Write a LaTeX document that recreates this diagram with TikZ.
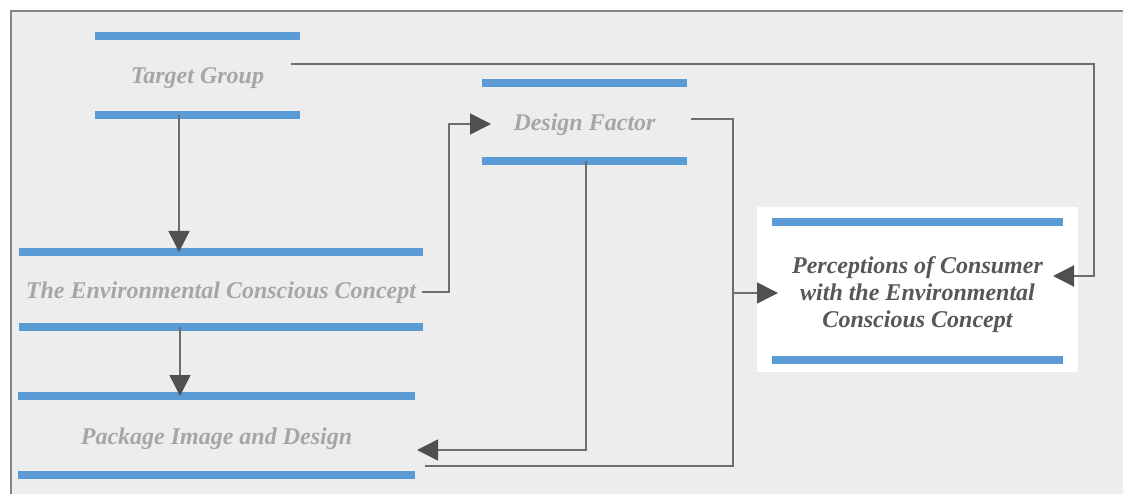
\documentclass[tikz,border=0pt]{standalone}
\usepackage{fontspec}
\setmainfont{Liberation Serif}
\usetikzlibrary{arrows.meta}
\definecolor{bgc}{HTML}{EDEDED}
\definecolor{framec}{HTML}{858585}
\definecolor{barc}{HTML}{5B9BD5}
\definecolor{lightt}{HTML}{A6A6A6}
\definecolor{darkt}{HTML}{575757}
\definecolor{linec}{HTML}{6E6E6E}
\definecolor{tipc}{HTML}{505050}
\tikzset{
  blockbox/.style={inner sep=0pt, outer sep=0pt, minimum height=#1, text=lightt,
    font=\fontsize{24}{27}\selectfont\bfseries\itshape},
  oneline/.style={text height=22.5pt, text depth=5.5pt},
  bar/.style={barc, line width=7.5pt},
  link/.style={linec, line width=1.5pt},
  conn/.style={link, -{Triangle[length=21pt,width=21pt,color=tipc]}},
}
\begin{document}
\begin{tikzpicture}[x=1pt,y=-1pt]
\useasboundingbox (0,0) rectangle (1123,494);
% background and frame
\fill[bgc] (10.5,11) rectangle (1123,494);
\draw[framec, line width=2pt] (10.5,494) -- (10.5,11) -- (1123,11);
% white box behind perceptions
\fill[white] (757,207) rectangle (1078,372);

% blocks
\node[blockbox=79pt, oneline, minimum width=205pt] (tg) at (197.5,75.5) {Target Group};
\node[blockbox=78pt, oneline, minimum width=205pt] (df) at (584.5,122) {Design Factor};
\node[blockbox=75pt, oneline, minimum width=404pt] (env) at (221,289.5) {The Environmental Conscious Concept};
\node[blockbox=79pt, oneline, minimum width=397pt] (pkg) at (216.5,435.5) {Package Image and Design};
\node[blockbox=138pt, minimum width=291pt, text=darkt, align=center] (per) at (917.5,294.5)
  {Perceptions of Consumer\\with the Environmental\\Conscious Concept};

% bars
\foreach \n in {tg,df,env,pkg}{
  \draw[bar] (\n.north west) -- (\n.north east);
  \draw[bar] (\n.south west) -- (\n.south east);
}
\draw[bar] ([yshift=3.5pt]per.north west) -- ([yshift=3.5pt]per.north east);
\draw[bar] ([yshift=3.5pt]per.south west) -- ([yshift=3.5pt]per.south east);

% connectors
\draw[conn] ([xshift=-18.5pt]tg.south) -- ([xshift=-18.5pt]tg.south |- env.north);
\draw[conn] ([xshift=-41pt]env.south) -- ([xshift=-41pt]env.south |- pkg.north);
\draw[conn] ([xshift=-9pt,yshift=11.5pt]tg.east) -- ++(803,0) |- ([xshift=-10pt,yshift=18.5pt]per.east);
\draw[conn] ([xshift=-1pt,yshift=-2.5pt]env.east) -- ++(27,0) |- ([xshift=9pt,yshift=-2pt]df.west);
\draw[link] ([xshift=4pt,yshift=3pt]df.east) -| ([xshift=-39pt,yshift=1.5pt]per.west);
\draw[conn] ([xshift=10pt,yshift=-30.5pt]pkg.east) -- ++(308,0) |- ([xshift=6pt,yshift=1.5pt]per.west);
\draw[conn] ([xshift=1.5pt]df.south) |- ([xshift=2pt,yshift=-14.5pt]pkg.east);
\end{tikzpicture}
\end{document}
